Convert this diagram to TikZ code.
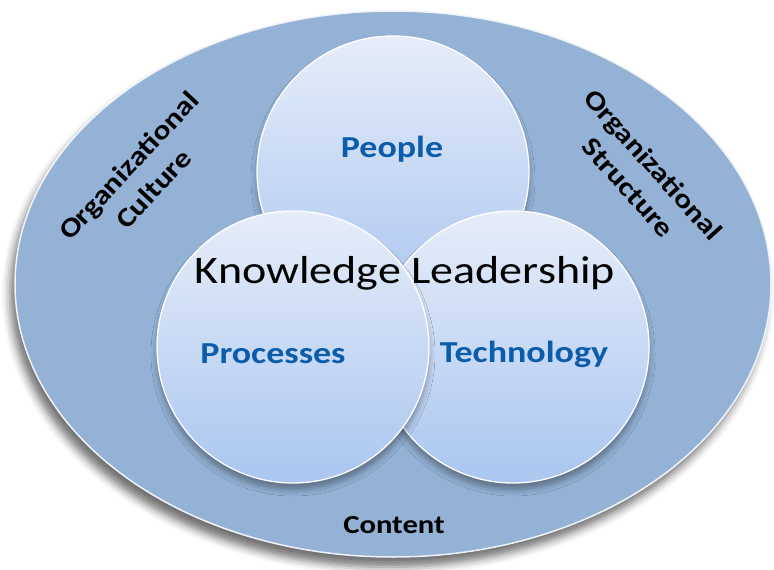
\documentclass[tikz,border=0pt]{standalone}
\usepackage{fontspec}
\setmainfont{Carlito}
\usetikzlibrary{shadows.blur}
\definecolor{ovalblue}{RGB}{148,178,214}
\definecolor{ringtop}{RGB}{230,237,249}
\definecolor{ringbot}{RGB}{170,198,240}
\definecolor{txtblue}{RGB}{12,92,172}
\newcommand{\wtxt}[1]{\scalebox{1.18}[1]{#1}}
\begin{document}
\begin{tikzpicture}[x=1pt, y=-1pt, line join=round,
	ring/.style={circle, minimum size=272pt, inner sep=0pt, draw=white, line width=1.3pt, top color=ringtop, bottom color=ringbot,
		blur shadow={shadow xshift=0pt, shadow yshift=-7pt, shadow blur radius=6pt, shadow opacity=35}},
	bluelbl/.style={font=\bfseries\fontsize{30.5}{36}\selectfont, text=txtblue, anchor=base},
	sidelbl/.style={font=\bfseries\fontsize{27}{34}\selectfont, align=center}]
	\useasboundingbox (0,0) rectangle (774,570);
	% outer oval
	\draw[fill=ovalblue, draw=white!85!ovalblue, line width=1.5pt,
		blur shadow={shadow xshift=-5pt, shadow yshift=-10pt, shadow blur radius=8pt, shadow opacity=55}]
		(393,284) ellipse [x radius=378, y radius=273];
	% the three circles
	\node[ring] (people) at (393,172) {};
	\node[ring] (tech) at (513,347) {};
	\node[ring] (proc) at (293,347) {};
	% labels
	\node[bluelbl] (peopletxt) at (392,157) {\wtxt{People}};
	\node[bluelbl] (proctxt) at (273,363) {\wtxt{Processes}};
	\node[bluelbl] (techtxt) at (524,362) {\wtxt{Technology}};
	\node[font=\fontsize{39}{44}\selectfont, anchor=base] (kl) at (405,283) {\wtxt{Knowledge Leadership}};
	\node[sidelbl, rotate=47] (culture) at (141,177) {\wtxt{Organizational}\\\wtxt{Culture}};
	\node[sidelbl, rotate=-48] (structure) at (641,176) {\wtxt{Organizational}\\\wtxt{Structure}};
	\node[font=\bfseries\fontsize{26}{30}\selectfont, anchor=base] (content) at (394,533) {\wtxt{Content}};
\end{tikzpicture}
\end{document}
